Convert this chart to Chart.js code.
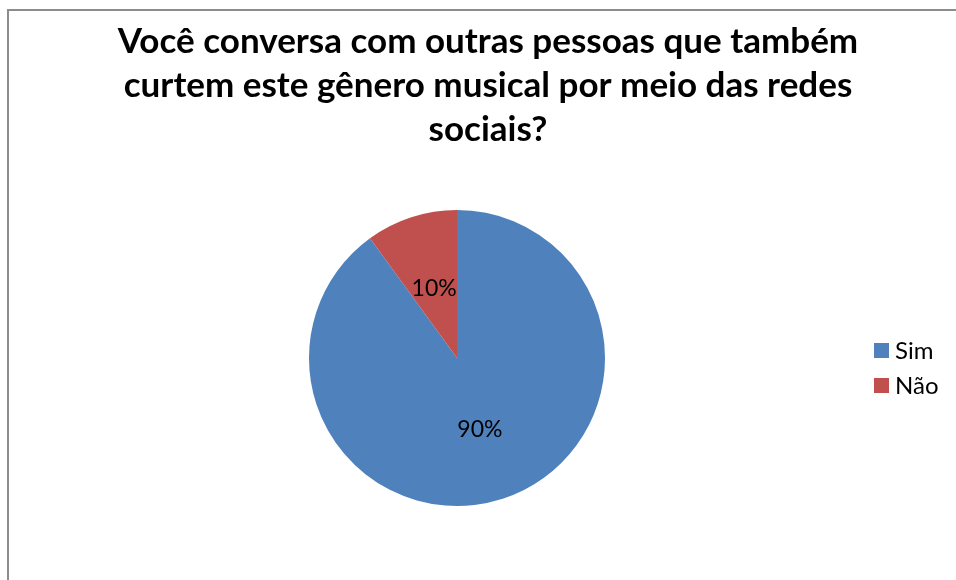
<!DOCTYPE html>
<html>
<head>
<meta charset="utf-8">
<script src="https://cdn.jsdelivr.net/npm/chart.js@4"></script>
<style>
    html, body { margin: 0; padding: 0; background: #fff; }
    #wrap { position: relative; width: 956px; height: 580px; }
</style>
</head>
<body>
<div id="wrap"><canvas id="pie-chart"></canvas></div>
<script>
// Chart data
const titleLines = [
    "Você conversa com outras pessoas que também",
    "curtem este gênero musical por meio das redes",
    "sociais?"
];
const categories = ["Sim", "Não"];
const shares = [90, 10];
const sliceColors = ["#4F81BD", "#C0504D"];

// Frame + title drawn behind the pie
const framePlugin = {
    id: 'frame',
    beforeDraw(chart) {
        const c = chart.ctx;
        c.save();
        c.fillStyle = '#fff';
        c.fillRect(0, 0, chart.width, chart.height);
        c.strokeStyle = '#8c8c8c';
        c.lineWidth = 2;
        c.beginPath();
        c.moveTo(8, chart.height + 5);
        c.lineTo(8, 10);
        c.lineTo(chart.width + 5, 10);
        c.stroke();

        c.fillStyle = '#000';
        c.font = 'bold 35px Lato';
        c.textAlign = 'center';
        c.textBaseline = 'alphabetic';
        titleLines.forEach((line, i) => {
            c.fillText(line, 488, 53 + i * 44);
        });
        c.restore();
    }
};

// Percent labels inside slices + legend on the right
const labelPlugin = {
    id: 'sliceLabels',
    afterDatasetsDraw(chart) {
        const c = chart.ctx;
        const meta = chart.getDatasetMeta(0);
        const total = shares.reduce((a, b) => a + b, 0);
        c.save();
        c.fillStyle = '#000';
        c.font = '23px Lato';
        c.textAlign = 'center';
        c.textBaseline = 'middle';
        meta.data.forEach((arc, i) => {
            const p = arc.getProps(['x', 'y', 'startAngle', 'endAngle', 'outerRadius'], true);
            const mid = (p.startAngle + p.endAngle) / 2;
            const d = p.outerRadius * 0.5;
            const pct = Math.round(shares[i] / total * 100) + '%';
            c.fillText(pct, p.x + Math.cos(mid) * d, p.y + Math.sin(mid) * d + 1);
        });

        // legend
        c.textAlign = 'left';
        c.textBaseline = 'alphabetic';
        c.font = '24px Lato';
        categories.forEach((name, i) => {
            const top = 343 + i * 35;
            c.fillStyle = sliceColors[i];
            c.fillRect(874, top, 15, 15);
            c.fillStyle = '#000';
            c.fillText(name, 895, top + 16);
        });
        c.restore();
    }
};

const chartData = {
    labels: categories,
    datasets: [{
        data: shares,
        backgroundColor: sliceColors,
        borderWidth: 0
    }]
};

const chartConfig = {
    type: 'pie',
    data: chartData,
    options: {
        responsive: true,
        maintainAspectRatio: false,
        animation: false,
        layout: {
            padding: { left: 309, right: 351, top: 210, bottom: 74 }
        },
        plugins: {
            legend: { display: false },
            title: { display: false },
            tooltip: { enabled: false }
        }
    },
    plugins: [framePlugin, labelPlugin]
};

const ctx = document.getElementById('pie-chart').getContext('2d');
new Chart(ctx, chartConfig);
</script>
</body>
</html>
